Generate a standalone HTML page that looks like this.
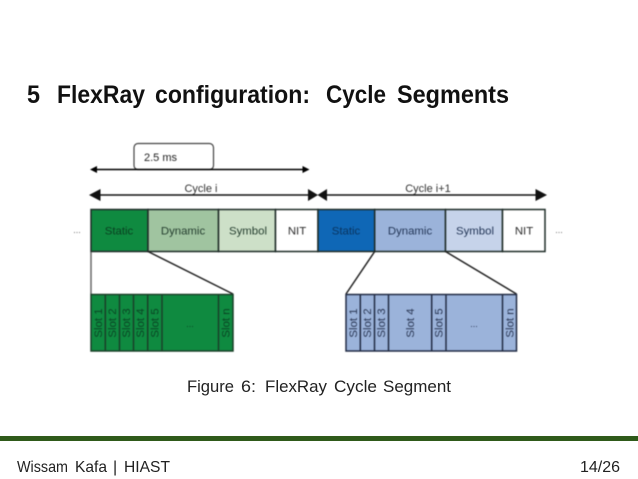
<!DOCTYPE html>
<html>
<head>
<meta charset="utf-8">
<style>
html,body{margin:0;padding:0;background:#fff;width:638px;height:479px;overflow:hidden}
svg{display:block}
text{font-family:"Liberation Sans",sans-serif}
</style>
</head>
<body>
<svg width="638" height="479" viewBox="0 0 638 479" xmlns="http://www.w3.org/2000/svg">
<rect width="638" height="479" fill="#fff"/>
<g font-size="25" font-weight="bold" fill="#111">
  <text x="27" y="103" textLength="13" lengthAdjust="spacingAndGlyphs">5</text>
  <text x="57" y="103" textLength="88" lengthAdjust="spacingAndGlyphs">FlexRay</text>
  <text x="155" y="103" textLength="155" lengthAdjust="spacingAndGlyphs">configuration:</text>
  <text x="326" y="103" textLength="60" lengthAdjust="spacingAndGlyphs">Cycle</text>
  <text x="397" y="103" textLength="112" lengthAdjust="spacingAndGlyphs">Segments</text>
</g>

<g style="filter:blur(0.4px)">
  <!-- 2.5 ms callout -->
  <rect x="134" y="143.5" width="79.5" height="26" rx="4" fill="#fff" stroke="#444" stroke-width="1.2"/>
  <text x="144" y="161" font-size="11" fill="#222">2.5 ms</text>
  <line x1="93" y1="169.5" x2="306" y2="169.5" stroke="#000" stroke-width="1.6"/>
  <polygon points="90,169.5 97,166 97,173" fill="#000"/>
  <polygon points="309.5,169.5 302.5,166 302.5,173" fill="#000"/>

  <!-- cycle arrows -->
  <line x1="98" y1="195" x2="310" y2="195" stroke="#111" stroke-width="1.5"/>
  <line x1="326" y1="195" x2="537" y2="195" stroke="#111" stroke-width="1.5"/>
  <polygon points="89,195 100.5,189 100.5,201" fill="#111"/>
  <polygon points="318,195 308,189 308,201" fill="#111"/>
  <polygon points="317.5,195 327,189 327,201" fill="#111"/>
  <polygon points="547,195 535.5,189 535.5,201" fill="#111"/>
  <text x="201" y="192" font-size="11" fill="#333" text-anchor="middle">Cycle i</text>
  <text x="428" y="192" font-size="11" fill="#333" text-anchor="middle">Cycle i+1</text>

  <!-- top bar -->
  <g stroke="#1f2d28" stroke-width="1.5">
    <rect x="91" y="209.5" width="57" height="42" fill="#0f8a40"/>
    <rect x="148" y="209.5" width="70.5" height="42" fill="#a0c4a0"/>
    <rect x="218.5" y="209.5" width="57" height="42" fill="#cde0c8"/>
    <rect x="275.5" y="209.5" width="42.5" height="42" fill="#fff"/>
    <rect x="318" y="209.5" width="56.7" height="42" fill="#0f67b6"/>
    <rect x="374.7" y="209.5" width="70.8" height="42" fill="#9bb3da"/>
    <rect x="445.5" y="209.5" width="57" height="42" fill="#c6d3ea"/>
    <rect x="502.5" y="209.5" width="42.5" height="42" fill="#fff"/>
  </g>
  <g font-size="11.4" text-anchor="middle">
    <text x="119" y="234.5" fill="#0a3f20">Static</text>
    <text x="183" y="234.5" fill="#263f30">Dynamic</text>
    <text x="248" y="234.5" fill="#263f30">Symbol</text>
    <text x="297" y="234.5" fill="#2b2b2b">NIT</text>
    <text x="346" y="234.5" fill="#0a3560">Static</text>
    <text x="410" y="234.5" fill="#243758">Dynamic</text>
    <text x="475" y="234.5" fill="#243758">Symbol</text>
    <text x="524" y="234.5" fill="#2b2b2b">NIT</text>
  </g>
  <text x="77" y="233" font-size="9" fill="#666" text-anchor="middle">...</text>
  <text x="559" y="233" font-size="9" fill="#666" text-anchor="middle">...</text>

  <!-- zoom lines -->
  <g stroke="#222" stroke-width="1.5" fill="none">
    <line x1="91" y1="252" x2="91" y2="294" stroke="#666"/>
    <line x1="148" y1="251.5" x2="233" y2="294"/>
    <line x1="374.7" y1="251.5" x2="346" y2="294"/>
    <line x1="445.5" y1="251.5" x2="516.5" y2="294"/>
  </g>

  <!-- green slots -->
  <rect x="91" y="294.5" width="142" height="56.5" fill="#0f8a40" stroke="#1a4029" stroke-width="1.5"/>
  <g stroke="#1a4029" stroke-width="1.5">
    <line x1="105.3" y1="294.5" x2="105.3" y2="351"/>
    <line x1="119.5" y1="294.5" x2="119.5" y2="351"/>
    <line x1="133.5" y1="294.5" x2="133.5" y2="351"/>
    <line x1="147.7" y1="294.5" x2="147.7" y2="351"/>
    <line x1="162" y1="294.5" x2="162" y2="351"/>
    <line x1="218.5" y1="294.5" x2="218.5" y2="351"/>
  </g>
  <g font-size="11.4" fill="#0a4524" text-anchor="middle">
    <text transform="translate(102,323) rotate(-90)">Slot 1</text>
    <text transform="translate(116,323) rotate(-90)">Slot 2</text>
    <text transform="translate(130,323) rotate(-90)">Slot 3</text>
    <text transform="translate(144,323) rotate(-90)">Slot 4</text>
    <text transform="translate(158.5,323) rotate(-90)">Slot 5</text>
    <text transform="translate(229.5,323) rotate(-90)">Slot n</text>
  </g>
  <text x="190" y="327" font-size="9" fill="#0a4524" text-anchor="middle">...</text>

  <!-- blue slots -->
  <rect x="346" y="294.5" width="170.5" height="56.5" fill="#9bb3da" stroke="#222c45" stroke-width="1.5"/>
  <g stroke="#222c45" stroke-width="1.5">
    <line x1="360.3" y1="294.5" x2="360.3" y2="351"/>
    <line x1="374.5" y1="294.5" x2="374.5" y2="351"/>
    <line x1="388.5" y1="294.5" x2="388.5" y2="351"/>
    <line x1="431.7" y1="294.5" x2="431.7" y2="351"/>
    <line x1="446" y1="294.5" x2="446" y2="351"/>
    <line x1="502.5" y1="294.5" x2="502.5" y2="351"/>
  </g>
  <g font-size="11.4" fill="#2a3754" text-anchor="middle">
    <text transform="translate(357,323) rotate(-90)">Slot 1</text>
    <text transform="translate(371,323) rotate(-90)">Slot 2</text>
    <text transform="translate(385,323) rotate(-90)">Slot 3</text>
    <text transform="translate(414,323) rotate(-90)">Slot 4</text>
    <text transform="translate(442.5,323) rotate(-90)">Slot 5</text>
    <text transform="translate(513.5,323) rotate(-90)">Slot n</text>
  </g>
  <text x="474" y="327" font-size="9" fill="#2a3754" text-anchor="middle">...</text>
</g>

<g font-size="17" fill="#222">
  <text x="187" y="392" textLength="47" lengthAdjust="spacingAndGlyphs">Figure</text>
  <text x="241" y="392" textLength="15" lengthAdjust="spacingAndGlyphs">6:</text>
  <text x="265" y="392" textLength="62" lengthAdjust="spacingAndGlyphs">FlexRay</text>
  <text x="334" y="392" textLength="43" lengthAdjust="spacingAndGlyphs">Cycle</text>
  <text x="383" y="392" textLength="68" lengthAdjust="spacingAndGlyphs">Segment</text>
</g>

<rect x="0" y="436" width="638" height="5" fill="#2f5a1a"/>
<g font-size="16" fill="#222">
  <text x="17" y="472" textLength="51" lengthAdjust="spacingAndGlyphs">Wissam</text>
  <text x="75" y="472" textLength="32" lengthAdjust="spacingAndGlyphs">Kafa</text>
  <text x="113" y="472">|</text>
  <text x="124" y="472" textLength="46" lengthAdjust="spacingAndGlyphs">HIAST</text>
  <text x="580" y="472" textLength="40" lengthAdjust="spacingAndGlyphs">14/26</text>
</g>
</svg>
</body>
</html>
